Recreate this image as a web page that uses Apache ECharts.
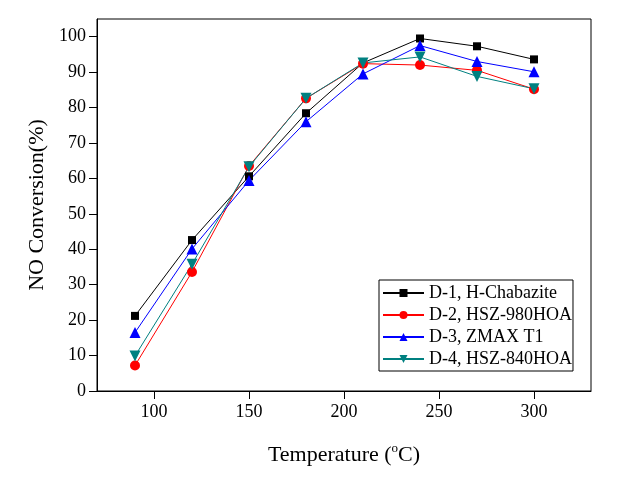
<!DOCTYPE html>
<html>
<head>
<meta charset="utf-8">
<script src="https://cdn.jsdelivr.net/npm/echarts@6/dist/echarts.min.js"></script>
<style>html,body{margin:0;padding:0;background:#fff;}#c{width:618px;height:478px;}</style>
</head>
<body>
<div id="c"></div>
<script>
const temperatures = [90, 120, 150, 180, 210, 240, 270, 300];
const d1 = [21.2, 42.6, 60.6, 78.4, 92.6, 99.5, 97.3, 93.6];
const d2 = [7.2, 33.6, 63.5, 82.6, 92.4, 92.0, 90.5, 85.2];
const d3 = [16.5, 40.1, 59.4, 76.0, 89.5, 97.5, 93.0, 90.1];
const d4 = [9.9, 35.8, 63.3, 82.6, 92.6, 94.3, 88.8, 85.3];
const seriesNames = ['D-1, H-Chabazite', 'D-2, HSZ-980HOA', 'D-3, ZMAX T1', 'D-4, HSZ-840HOA'];
const xTicks = [100, 150, 200, 250, 300];
const yTicks = [0, 10, 20, 30, 40, 50, 60, 70, 80, 90, 100];

const font = 'Liberation Serif';
const chart = echarts.init(document.getElementById('c'));
function mk(name, vals, color, symbol, size) {
  return {
    name: name, type: 'line', data: temperatures.map((t, i) => [t, vals[i]]),
    symbol: symbol, symbolSize: size,
    lineStyle: { color: color, width: 1 },
    itemStyle: { color: color },
    animation: false
  };
}
chart.setOption({
  backgroundColor: '#fff',
  textStyle: { fontFamily: font },
  grid: { left: 97, right: 27, top: 19, bottom: 87, show: true, borderColor: '#000', borderWidth: 1, backgroundColor: 'transparent' },
  legend: {
    orient: 'vertical', left: 379, top: 280,
    borderColor: '#000', borderWidth: 1,
    padding: [4, 1, 3, 3],
    itemWidth: 41, itemHeight: 10, itemGap: 4,
    textStyle: { fontFamily: font, fontSize: 18, color: '#000' },
    data: seriesNames
  },
  xAxis: {
    type: 'value', min: 70, max: 330,
    name: 'Temperature ({sup|o}C)', nameLocation: 'middle', nameGap: 51,
    nameTextStyle: { fontFamily: font, fontSize: 22, lineHeight: 26, color: '#000', rich: { sup: { fontFamily: font, fontSize: 13, lineHeight: 13, color: '#000', verticalAlign: 'top' } } },
    axisLine: { show: true, lineStyle: { color: '#000', width: 1 } },
    axisTick: { show: true, inside: false, length: 8, customValues: xTicks, lineStyle: { color: '#000' } },
    axisLabel: { customValues: xTicks, fontFamily: font, fontSize: 18, color: '#000', margin: 12 },
    splitLine: { show: false }
  },
  yAxis: {
    type: 'value', min: 0, max: 105,
    name: 'NO Conversion(%)', nameLocation: 'middle', nameGap: 42,
    nameTextStyle: { fontFamily: font, fontSize: 22, color: '#000' },
    axisLine: { show: true, lineStyle: { color: '#000', width: 1 } },
    axisTick: { show: true, inside: false, length: 8, customValues: yTicks, lineStyle: { color: '#000' } },
    axisLabel: { customValues: yTicks, fontFamily: font, fontSize: 18, color: '#000', margin: 11 },
    splitLine: { show: false }
  },
  series: [
    mk(seriesNames[0], d1, '#000000', 'rect', 8),
    mk(seriesNames[1], d2, '#ff0000', 'circle', 10),
    mk(seriesNames[2], d3, '#0000ff', 'triangle', 11),
    mk(seriesNames[3], d4, '#008080', 'path://M0,0 L10,0 L5,9 Z', 11)
  ]
});
</script>
</body>
</html>
